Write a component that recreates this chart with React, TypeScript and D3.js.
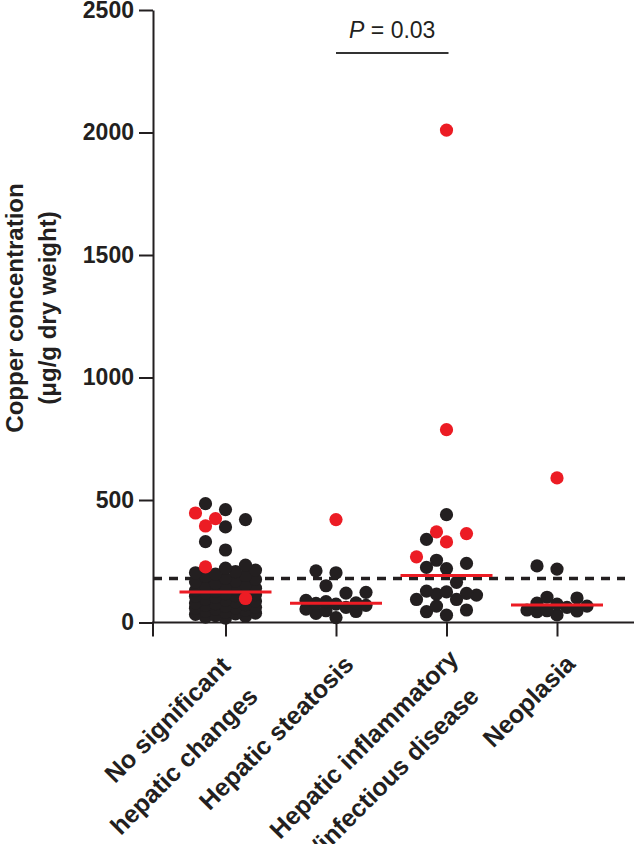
import React, { useEffect, useRef } from 'react';
import * as d3 from 'd3';

// groups on the x axis
const categories = ['none', 'steatosis', 'inflammatory', 'neoplasia'];
const categoryLabels = [
  ['No significant', 'hepatic changes'],
  ['Hepatic steatosis'],
  ['Hepatic inflammatory', '/infectious disease'],
  ['Neoplasia'],
];

// copper values (ug/g dry weight), black = normal dots, red = highlighted dots
const noChangeBlack = [485, 461, 420, 390, 330, 296, 234, 222, 214, 208, 203, 198, 192, 188, 180, 176, 170,
  166, 160, 155, 150, 146, 140, 136, 131, 127, 124, 121, 118, 114, 110, 107, 103, 95, 92, 88, 84,
  80, 77, 73, 70, 66, 62, 60, 58, 55, 50, 46, 42, 38, 35, 33, 28, 25, 22, 18];
const noChangeRed = [447, 424, 394, 227, 98];

const steatosisBlack = [211, 203, 150, 123, 120, 90, 85, 80, 78, 75, 70, 62, 55, 48, 45, 37, 20];
const steatosisRed = [420];

const inflammatoryBlack = [440, 339, 254, 241, 225, 220, 164, 128, 125, 119, 116, 112, 94, 94, 67, 51, 44, 30];
const inflammatoryRed = [2010, 787, 370, 363, 329, 268];

const neoplasiaBlack = [231, 218, 103, 100, 79, 75, 67, 62, 51, 48, 47, 44, 31];
const neoplasiaRed = [590];

const blackValues = [noChangeBlack, steatosisBlack, inflammatoryBlack, neoplasiaBlack];
const redValues = [noChangeRed, steatosisRed, inflammatoryRed, neoplasiaRed];

const yTicks = [0, 500, 1000, 1500, 2000, 2500];
const threshold = 180;
const pLabel = ' = 0.03';

const BLACK = '#231f20';
const RED = '#ec1c24';
const FONT = "'Liberation Sans', Arial, Helvetica, sans-serif";

// column-grid beeswarm, roughly how Prism lays out scatter dot plots
function swarm(points, y, r, pitch, maxCol) {
  const sorted = points.slice().sort((a, b) => a.v - b.v);
  const placed = [];
  const order = [0];
  for (let c = 1; c <= maxCol; c++) order.push(-c, c);
  sorted.forEach(p => {
    const py = y(p.v);
    let best = 0, bestD = -1;
    for (const c of order) {
      const px = c * pitch;
      let minD = Infinity;
      placed.forEach(q => {
        const d = Math.hypot(q.dx - px, q.py - py);
        if (d < minD) minD = d;
      });
      if (minD >= 2 * r) { best = c; bestD = minD; break; }
      if (minD > bestD) { bestD = minD; best = c; }
    }
    placed.push({ ...p, dx: best * pitch, py });
  });
  return placed;
}

export default function App() {
  const svgRef = useRef(null);

  useEffect(() => {
    const width = 634;
    const height = 844;
    const svg = d3.select(svgRef.current);
    svg.selectAll('*').remove();
    svg.attr('width', width).attr('height', height);

    const axisX = 153;
    const y = d3.scaleLinear().domain([0, 2500]).range([622.5, 10]);
    const x = d3.scalePoint().domain(categories).range([225.5, 557]);
    const r = 6.6;

    // y axis
    svg.append('g')
      .attr('transform', `translate(${axisX},0)`)
      .call(d3.axisLeft(y).tickValues(yTicks).tickFormat(d3.format('d'))
        .tickSize(14).tickPadding(5).tickSizeOuter(0))
      .call(g => g.select('.domain').attr('stroke', BLACK).attr('stroke-width', 2))
      .call(g => g.selectAll('line').attr('stroke', BLACK).attr('stroke-width', 2))
      .call(g => g.selectAll('text').attr('fill', BLACK).style('font-family', FONT)
        .style('font-size', '23px').style('font-weight', 'bold'));

    // x axis
    svg.append('line')
      .attr('x1', axisX - 1).attr('x2', width)
      .attr('y1', y(0)).attr('y2', y(0))
      .attr('stroke', BLACK).attr('stroke-width', 2);
    svg.append('g')
      .attr('transform', `translate(0,${y(0)})`)
      .call(d3.axisBottom(x).tickSize(14).tickSizeOuter(0).tickFormat(() => ''))
      .call(g => g.select('.domain').remove())
      .call(g => g.selectAll('line').attr('stroke', BLACK).attr('stroke-width', 2));
    svg.append('line')
      .attr('x1', axisX).attr('x2', axisX)
      .attr('y1', y(0)).attr('y2', y(0) + 14)
      .attr('stroke', BLACK).attr('stroke-width', 2);

    // y title
    const title = svg.append('text')
      .attr('transform', 'rotate(-90)')
      .attr('text-anchor', 'middle')
      .attr('fill', BLACK)
      .style('font-family', FONT).style('font-size', '24px').style('font-weight', 'bold');
    title.append('tspan').attr('x', -308).attr('y', 23).text('Copper concentration');
    title.append('tspan').attr('x', -308).attr('y', 56).text('(\u03bcg/g dry weight)');

    // category labels, rotated 45 degrees
    const lineShift = [[-10, -12], [0], [0, -12], [1]];
    categoryLabels.forEach((lines, i) => {
      const lg = svg.append('g')
        .attr('transform', `translate(${x(categories[i]) + 19},666) rotate(-45)`);
      lines.forEach((t, j) => {
        lg.append('text')
          .attr('x', lineShift[i][j])
          .attr('y', lines.length > 1 ? -8 + j * 41 : 0)
          .attr('text-anchor', 'end')
          .attr('fill', BLACK)
          .style('font-family', FONT).style('font-size', '25px').style('font-weight', 'bold')
          .text(t);
      });
    });

    // threshold line
    svg.append('line')
      .attr('x1', axisX).attr('x2', 625)
      .attr('y1', y(threshold)).attr('y2', y(threshold))
      .attr('stroke', BLACK).attr('stroke-width', 3.5)
      .attr('stroke-dasharray', '9,7');

    // dots
    const dots = svg.append('g');
    categories.forEach((c, i) => {
      const pts = [
        ...blackValues[i].map(v => ({ v, red: false })),
        ...redValues[i].map(v => ({ v, red: true })),
      ];
      const placed = swarm(pts, y, r, 10, 3);
      const cx = x(c);
      placed.filter(p => !p.red).forEach(p => {
        dots.append('circle').attr('cx', cx + p.dx).attr('cy', p.py).attr('r', r).attr('fill', BLACK);
      });
      placed.filter(p => p.red).forEach(p => {
        dots.append('circle').attr('cx', cx + p.dx).attr('cy', p.py).attr('r', r).attr('fill', RED);
      });
    });

    // medians
    categories.forEach((c, i) => {
      const med = d3.median([...blackValues[i], ...redValues[i]]);
      svg.append('line')
        .attr('x1', x(c) - 46).attr('x2', x(c) + 46)
        .attr('y1', y(med)).attr('y2', y(med))
        .attr('stroke', RED).attr('stroke-width', 3);
    });

    // significance bracket
    const x1 = x(categories[1]);
    const x2 = x(categories[2]);
    svg.append('line')
      .attr('x1', x1).attr('x2', x2 + 2)
      .attr('y1', 53).attr('y2', 53)
      .attr('stroke', '#333').attr('stroke-width', 2);
    const pt = svg.append('text')
      .attr('x', (x1 + x2) / 2 + 1).attr('y', 38)
      .attr('text-anchor', 'middle')
      .attr('fill', BLACK)
      .style('font-family', FONT).style('font-size', '23px');
    pt.append('tspan').style('font-style', 'italic').text('P');
    pt.append('tspan').text(pLabel);
  }, []);

  return (
    <div style={{ position: 'absolute', left: 0, top: 0, width: 634, height: 844, background: '#fff' }}>
      <svg ref={svgRef} />
    </div>
  );
}
